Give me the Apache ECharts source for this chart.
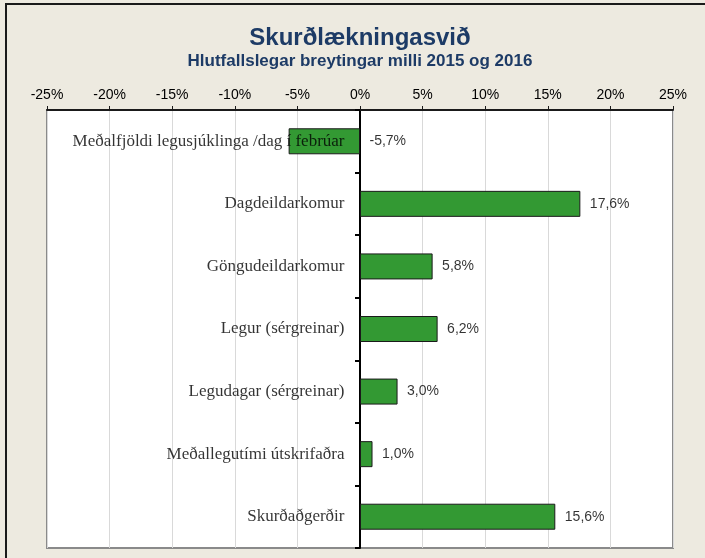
<!DOCTYPE html>
<html>
<head>
<meta charset="utf-8">
<script src="https://cdn.jsdelivr.net/npm/echarts@6/dist/echarts.min.js"></script>
<style>
  html, body { margin: 0; padding: 0; background: #edeae0; }
  #chart { width: 705px; height: 558px; }
</style>
</head>
<body>
<div id="chart"></div>
<script>
// Percentage change between 2015 and 2016, surgical division
const categories = [
  'Meðalfjöldi legusjúklinga /dag í febrúar',
  'Dagdeildarkomur',
  'Göngudeildarkomur',
  'Legur (sérgreinar)',
  'Legudagar (sérgreinar)',
  'Meðallegutími útskrifaðra',
  'Skurðaðgerðir'
];
const changes = [-5.7, 17.6, 5.8, 6.2, 3.0, 1.0, 15.6];
const axisMin = -25;
const axisMax = 25;
const axisStep = 5;

const fmtPct = v => v.toFixed(1).replace('.', ',') + '%';

const chart = echarts.init(document.getElementById('chart'), null, { renderer: 'canvas' });

chart.setOption({
  backgroundColor: '#edeae0',
  animation: false,
  title: {
    text: 'Skurðlækningasvið',
    subtext: 'Hlutfallslegar breytingar milli 2015 og 2016',
    left: 355,
    top: 21,
    textAlign: 'center',
    itemGap: 3,
    textStyle: {
      fontFamily: 'Liberation Sans, Arial, sans-serif',
      fontSize: 24,
      fontWeight: 'bold',
      color: '#1d3b66'
    },
    subtextStyle: {
      fontFamily: 'Liberation Sans, Arial, sans-serif',
      fontSize: 17,
      fontWeight: 'bold',
      color: '#1d3b66'
    }
  },
  graphic: [{
    type: 'rect',
    z: -10,
    silent: true,
    shape: { x: 6, y: 4, width: 760, height: 620 },
    style: { fill: 'none', stroke: '#1a1a1a', lineWidth: 2 }
  }],
  grid: {
    left: 47,
    right: 32,
    top: 110,
    bottom: 10,
    containLabel: false,
    outerBoundsMode: 'none',
    show: true,
    backgroundColor: '#ffffff',
    borderColor: '#8a8a8a',
    borderWidth: 2
  },
  xAxis: {
    type: 'value',
    position: 'top',
    min: axisMin,
    max: axisMax,
    interval: axisStep,
    axisLine: { show: true, lineStyle: { color: '#1a1a1a', width: 2 } },
    axisTick: { show: true, length: 4, lineStyle: { color: '#1a1a1a', width: 1 } },
    axisLabel: {
      margin: 8,
      fontFamily: 'Liberation Sans, Arial, sans-serif',
      fontSize: 14,
      color: '#000',
      formatter: v => v + '%'
    },
    splitLine: { show: true, lineStyle: { color: '#d9d9d9', width: 1 } }
  },
  yAxis: {
    type: 'category',
    inverse: true,
    data: categories,
    axisLine: { show: true, onZero: true, lineStyle: { color: '#000', width: 2 } },
    axisTick: { show: true, length: 5, lineStyle: { color: '#000', width: 2 } },
    axisLabel: { show: false },
    splitLine: { show: false }
  },
  series: [
    {
      type: 'bar',
      data: changes,
      barWidth: 26,
      itemStyle: { color: '#339933', borderColor: '#1a1a1a', borderWidth: 1 },
      z: 1
    },
    {
      // category names, right-aligned against the zero line
      type: 'scatter',
      data: categories.map((c, i) => ({ value: [0, i], name: c })),
      symbol: 'rect',
      symbolSize: 1,
      itemStyle: { color: 'rgba(0,0,0,0)' },
      silent: true,
      z: 3,
      label: {
        show: true,
        position: 'left',
        distance: 15,
        fontFamily: 'Liberation Serif, Times New Roman, serif',
        fontSize: 17,
        color: '#000',
        formatter: p => p.name
      }
    },
    {
      // value labels placed just past the end of each bar (or the zero line)
      type: 'scatter',
      data: changes.map((v, i) => ({ value: [Math.max(v, 0), i], raw: v })),
      symbol: 'rect',
      symbolSize: 1,
      itemStyle: { color: 'rgba(0,0,0,0)' },
      silent: true,
      z: 3,
      label: {
        show: true,
        position: 'right',
        distance: 9,
        fontFamily: 'Liberation Sans, Arial, sans-serif',
        fontSize: 14,
        color: '#000',
        formatter: p => fmtPct(p.data.raw)
      }
    }
  ]
});
</script>
</body>
</html>
